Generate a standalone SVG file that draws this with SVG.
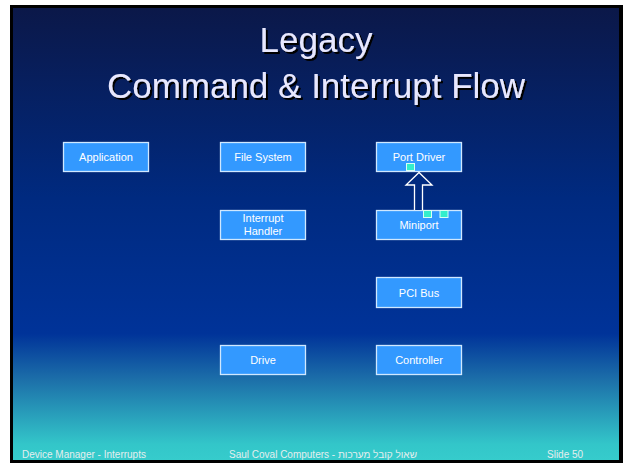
<svg xmlns="http://www.w3.org/2000/svg" width="626" height="463" viewBox="0 0 626 463">
<defs>
<linearGradient id="bg" x1="0" y1="9" x2="0" y2="460" gradientUnits="userSpaceOnUse">
<stop offset="0" stop-color="#0b1849"/>
<stop offset="0.42" stop-color="#002a80"/>
<stop offset="0.72" stop-color="#003399"/>
<stop offset="0.82" stop-color="#1c6ea9"/>
<stop offset="0.965" stop-color="#33c6c9"/>
<stop offset="1" stop-color="#36cccc"/>
</linearGradient>
<filter id="ts" x="-10%" y="-20%" width="120%" height="150%">
<feDropShadow dx="2" dy="2" stdDeviation="0.3" flood-color="#000000" flood-opacity="1"/>
</filter>
<style>
.box{fill:#3399ff;stroke:#d0e8ff;stroke-width:1.3}
.lbl{font-family:"Liberation Sans",Arial,sans-serif;font-size:11px;fill:#ffffff;text-anchor:middle}
.title{font-family:"Liberation Sans",Arial,sans-serif;font-size:35px;fill:#e8e8ff;text-anchor:middle;filter:url(#ts)}
.foot{font-family:"Liberation Sans",Arial,sans-serif;font-size:10px;fill:#e4eeee}
.pin{fill:#33eecc;stroke:#d8fff4;stroke-width:1}
</style>
</defs>
<rect x="0" y="0" width="626" height="463" fill="#ffffff"/>
<rect x="10" y="5" width="613" height="458" fill="#000000"/>
<rect x="13" y="8" width="606" height="452" fill="url(#bg)"/>
<g id="title">
<text class="title" x="316" y="52">Legacy</text>
<text class="title" x="316" y="98">Command &amp; Interrupt Flow</text>
</g>
<g id="application"><rect class="box" x="63.5" y="142.5" width="85" height="29"/><text class="lbl" x="106" y="161">Application</text></g>
<g id="file-system"><rect class="box" x="220.5" y="142.5" width="85" height="29"/><text class="lbl" x="263" y="161">File System</text></g>
<g id="interrupt-handler"><rect class="box" x="220.5" y="210.5" width="85" height="29"/><text class="lbl" x="263" y="222">Interrupt</text><text class="lbl" x="263" y="235">Handler</text></g>
<g id="port-driver"><rect class="box" x="376.5" y="142.5" width="85" height="29"/><text class="lbl" x="419" y="161">Port Driver</text></g>
<g id="miniport"><rect class="box" x="376.5" y="210.5" width="85" height="29"/><text class="lbl" x="419" y="229">Miniport</text></g>
<g id="pci-bus"><rect class="box" x="376.5" y="277.5" width="85" height="30"/><text class="lbl" x="419" y="297">PCI Bus</text></g>
<g id="drive"><rect class="box" x="220.5" y="345.5" width="85" height="29"/><text class="lbl" x="263" y="364">Drive</text></g>
<g id="controller"><rect class="box" x="376.5" y="345.5" width="85" height="29"/><text class="lbl" x="419" y="364">Controller</text></g>
<g id="connectors">
<path d="M414.5,210 L414.5,185 L406,185 L419,172.5 L432,185 L422.5,185 L422.5,210" fill="#002a80" stroke="#ffffff" stroke-width="1.3" stroke-linejoin="miter"/>
<rect class="pin" x="406.5" y="163.5" width="8" height="7"/>
<rect class="pin" x="423.5" y="210.5" width="8" height="7"/>
<rect class="pin" x="440" y="210.5" width="8" height="7"/>
</g>
<g id="footer">
<text class="foot" x="22" y="458">Device Manager - Interrupts</text>
<text class="foot" x="229" y="458">Saul Coval Computers - שאול קובל מערכות</text>
<text class="foot" x="547" y="458">Slide 50</text>
</g>
</svg>
